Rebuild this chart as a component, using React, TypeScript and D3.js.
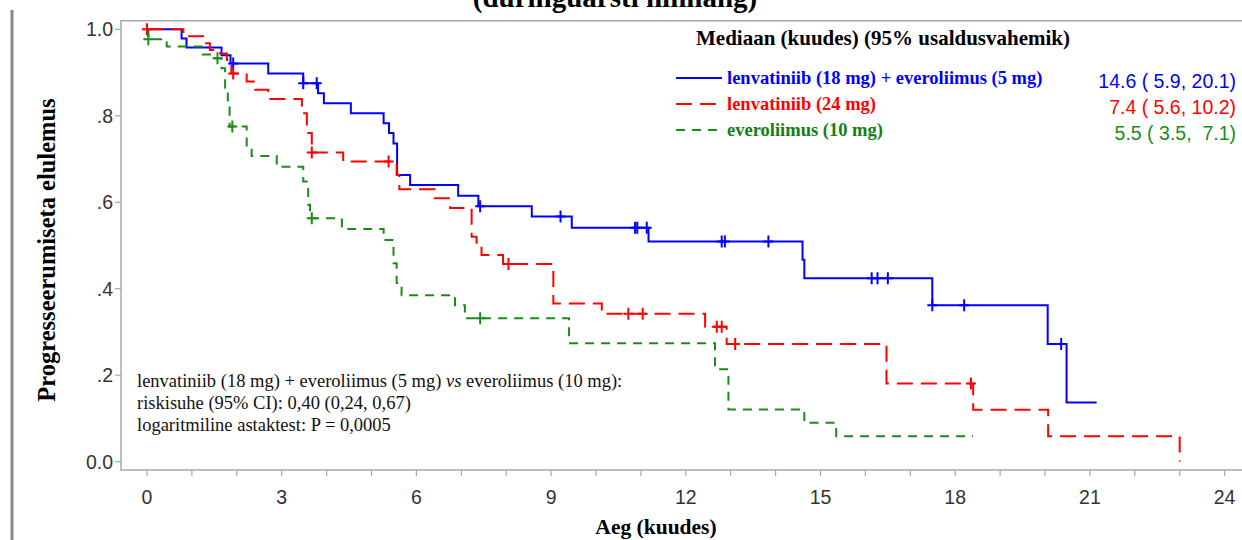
import React from "react";
import { scaleLinear, line, curveStepAfter, bisectRight, range } from "d3";

// Kaplan-Meier steps: time (months) where the curve drops, survival after the drop
const blueTimes = [0, 0.77, 0.88, 1.66, 1.86, 2.7, 3.48, 3.81, 3.94, 4.54, 5.27, 5.39, 5.49, 5.57, 5.86, 6.93, 7.38, 8.57, 9.46, 11.17, 14.6, 14.64, 17.49, 20.06, 20.48];
const blueSurv = [1.0, 0.979, 0.958, 0.94, 0.921, 0.898, 0.875, 0.852, 0.829, 0.806, 0.783, 0.76, 0.736, 0.663, 0.64, 0.615, 0.591, 0.567, 0.541, 0.509, 0.467, 0.424, 0.362, 0.272, 0.137];
const blueEnd = 21.15;
const blueCensored = [1.92, 3.48, 3.78, 7.42, 9.21, 10.87, 10.92, 11.13, 12.8, 12.87, 13.84, 16.14, 16.27, 16.5, 17.49, 18.2, 20.36];

const redTimes = [0, 0.81, 1.25, 1.4, 1.63, 1.78, 1.88, 2.22, 2.41, 2.7, 3.45, 3.56, 3.67, 4.37, 5.56, 5.62, 6.41, 6.75, 7.23, 7.34, 7.45, 7.93, 9.05, 10.13, 12.43, 12.91, 16.47, 18.4, 20.07, 23.0];
const redSurv = [1.0, 0.984, 0.968, 0.952, 0.944, 0.929, 0.898, 0.879, 0.86, 0.839, 0.806, 0.76, 0.715, 0.694, 0.663, 0.63, 0.609, 0.587, 0.52, 0.501, 0.478, 0.457, 0.366, 0.342, 0.312, 0.272, 0.181, 0.12, 0.059, 0];
const redEnd = 23.0;
const redCensored = [0, 1.92, 3.67, 5.38, 8.05, 10.72, 11.04, 12.69, 12.8, 13.1, 18.35];

const greenTimes = [0, 0.03, 0.44, 1.22, 1.45, 1.66, 1.74, 1.8, 1.84, 2.22, 2.33, 2.89, 3.48, 3.59, 3.63, 4.34, 5.27, 5.49, 5.56, 5.67, 6.86, 7.08, 9.4, 12.65, 12.95, 14.64, 15.35];
const greenSurv = [1.0, 0.977, 0.96, 0.942, 0.933, 0.91, 0.865, 0.82, 0.775, 0.728, 0.707, 0.682, 0.648, 0.594, 0.563, 0.538, 0.513, 0.459, 0.413, 0.385, 0.362, 0.332, 0.274, 0.214, 0.121, 0.09, 0.059];
const greenEnd = 18.4;
const greenCensored = [0.03, 1.57, 1.9, 3.67, 7.42];

const seriesNames = ["lenvatiniib (18 mg) + everoliimus (5 mg)", "lenvatiniib (24 mg)", "everoliimus (10 mg)"];
const medianLabels = ["14.6 ( 5.9, 20.1)", "7.4 ( 5.6, 10.2)", "5.5 ( 3.5,  7.1)"];

const xTicks = range(0, 25, 1);
const xLabelTicks = [0, 3, 6, 9, 12, 15, 18, 21, 24];
const yTicks = [0, 0.2, 0.4, 0.6, 0.8, 1.0];
const yTickLabels = ["0.0", ".2", ".4", ".6", ".8", "1.0"];

const noteLines = [
  "riskisuhe (95% CI): 0,40 (0,24, 0,67)",
  "logaritmiline astaktest: P = 0,0005",
];

const SERIF = "'Liberation Serif', 'Times New Roman', serif";
const SANS = "'Liberation Sans', Arial, sans-serif";

const COLORS = ["#0000ff", "#ff0000", "#1a8c1a"];
const TEXT_COLORS = ["#0000ff", "#ff0000", "#138013"];
const DASHES = ["none", "16 8", "9 7"];

const W = 1242;
const H = 540;

const x = scaleLinear().domain([0, 24]).range([147, 1224.6]);
const y = scaleLinear().domain([0, 1]).range([461.7, 29.3]);

const frame = { left: 121, top: 20.7, bottom: 470, right: 1260 };

function stepPoints(times: number[], surv: number[], end: number): [number, number][] {
  const pts: [number, number][] = times.map((t, i) => [t, surv[i]]);
  pts.push([end, surv[surv.length - 1]]);
  return pts;
}

function survAt(times: number[], surv: number[], t: number) {
  const i = bisectRight(times, t) - 1;
  return surv[Math.max(0, i)];
}

const stepLine = line<[number, number]>()
  .x((d) => x(d[0]))
  .y((d) => y(d[1]))
  .curve(curveStepAfter);

export default function App() {
  const series = [
    { times: blueTimes, surv: blueSurv, end: blueEnd, cens: blueCensored },
    { times: redTimes, surv: redSurv, end: redEnd, cens: redCensored },
    { times: greenTimes, surv: greenSurv, end: greenEnd, cens: greenCensored },
  ];
  const legendRows = [78, 104, 130];

  return (
    <svg
      width={W}
      height={H}
      style={{ position: "absolute", left: 0, top: 0, display: "block", background: "#fff" }}
    >
      {/* page border on the left */}
      <rect x={10.5} y={10} width={3} height={H - 10} fill="#8a8a8a" />

      {/* title, cut off at the top like in the source */}
      <text x={615} y={7} textAnchor="middle" fontFamily={SERIF} fontWeight="bold" fontSize={29}>
        (duringuarsti hinnang)
      </text>

      {/* frame */}
      <path
        d={`M${frame.right},${frame.top}H${frame.left}V${frame.bottom}H${frame.right}`}
        fill="none"
        stroke="#a8a8a8"
        strokeWidth={1.5}
      />

      {/* y axis */}
      {yTicks.map((v, i) => (
        <g key={v}>
          <line x1={frame.left - 6} x2={frame.left} y1={y(v)} y2={y(v)} stroke="#a8a8a8" strokeWidth={1.2} />
          <text
            x={frame.left - 8}
            y={y(v)}
            dy="0.36em"
            textAnchor="end"
            fontFamily={SANS}
            fontSize={19.5}
            fill="#333"
          >
            {yTickLabels[i]}
          </text>
        </g>
      ))}

      {/* x axis */}
      {xTicks.map((v) => (
        <line key={v} x1={x(v)} x2={x(v)} y1={frame.bottom} y2={frame.bottom + 6} stroke="#a8a8a8" strokeWidth={1.2} />
      ))}
      {xLabelTicks.map((v) => (
        <text key={v} x={x(v)} y={504} textAnchor="middle" fontFamily={SANS} fontSize={19.5} fill="#333">
          {v}
        </text>
      ))}

      <text x={656} y={534} textAnchor="middle" fontFamily={SERIF} fontWeight="bold" fontSize={21.5}>
        Aeg (kuudes)
      </text>
      <text
        transform={`translate(55,250) rotate(-90)`}
        textAnchor="middle"
        fontFamily={SERIF}
        fontWeight="bold"
        fontSize={24.5}
      >
        Progresseerumiseta elulemus
      </text>

      {/* curves */}
      {series.map((s, i) => (
        <path
          key={i}
          d={stepLine(stepPoints(s.times, s.surv, s.end)) || ""}
          fill="none"
          stroke={COLORS[i]}
          strokeWidth={2}
          strokeDasharray={DASHES[i]}
        />
      ))}

      {/* censoring marks */}
      {series.map((s, i) =>
        s.cens.map((t, j) => {
          const cx = x(t);
          const cy = y(survAt(s.times, s.surv, t));
          return (
            <path
              key={`${i}-${j}`}
              d={`M${cx - 5},${cy}H${cx + 5}M${cx},${cy - 6}V${cy + 6}`}
              stroke={COLORS[i]}
              strokeWidth={2}
            />
          );
        })
      )}

      {/* legend */}
      <text x={696} y={45} fontFamily={SERIF} fontWeight="bold" fontSize={21}>
        Mediaan (kuudes) (95% usaldusvahemik)
      </text>
      {seriesNames.map((name, i) => (
        <g key={name}>
          <line
            x1={676}
            x2={722}
            y1={legendRows[i]}
            y2={legendRows[i]}
            stroke={COLORS[i]}
            strokeWidth={2}
            strokeDasharray={DASHES[i]}
          />
          <text
            x={727}
            y={legendRows[i]}
            dy="0.3em"
            fontFamily={SERIF}
            fontWeight="bold"
            fontSize={18.5}
            fill={TEXT_COLORS[i]}
          >
            {name}
          </text>
          <text
            x={1236}
            y={legendRows[i] + 3}
            dy="0.35em"
            textAnchor="end"
            fontFamily={SANS}
            fontSize={19.5}
            fill={COLORS[i]}
            style={{ whiteSpace: "pre" }}
          >
            {medianLabels[i]}
          </text>
        </g>
      ))}

      {/* statistics note */}
      <text x={137} y={381} dy="0.35em" fontFamily={SERIF} fontSize={18.5} fill="#111">
        lenvatiniib (18 mg) + everoliimus (5 mg) <tspan fontStyle="italic">vs</tspan> everoliimus (10 mg):
      </text>
      {noteLines.map((ln, i) => (
        <text key={ln} x={137} y={403 + i * 21.7} dy="0.35em" fontFamily={SERIF} fontSize={18.5} fill="#111">
          {ln}
        </text>
      ))}
    </svg>
  );
}
